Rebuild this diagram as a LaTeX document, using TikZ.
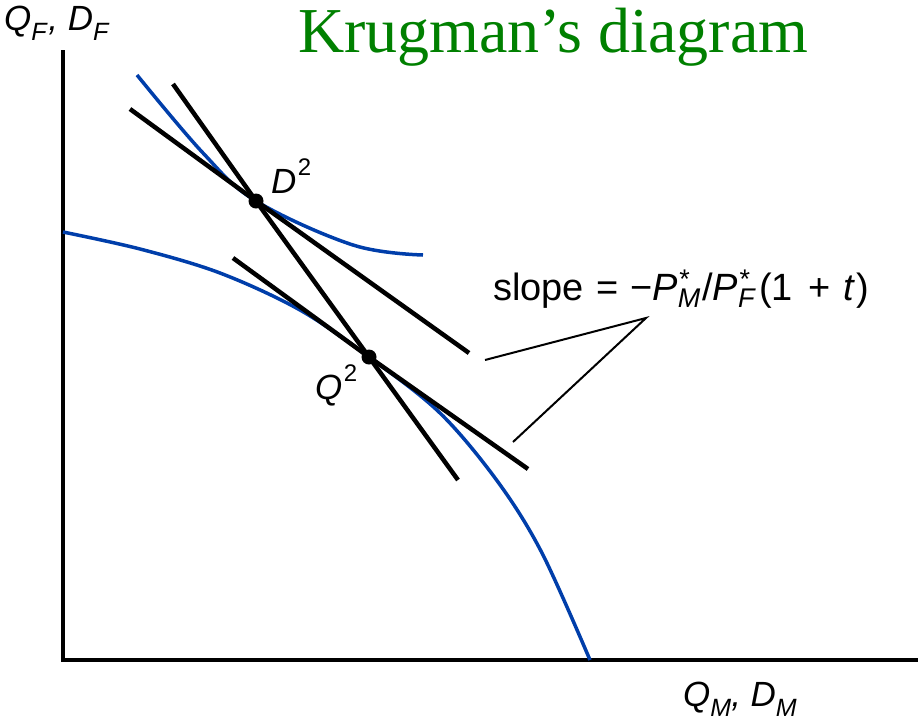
\documentclass[tikz,border=0pt]{standalone}
\usepackage{fontspec}
\setmainfont{Liberation Serif}
\setsansfont{Liberation Sans}
\definecolor{curveblue}{RGB}{0,62,170}
\definecolor{titlegreen}{RGB}{0,128,0}
\newcommand{\lsub}[1]{\raisebox{-0.3em}{\fontsize{25}{25}\selectfont\itshape #1}}
\newcommand{\starsub}[1]{{\fontsize{27}{27}\selectfont\rlap{\raisebox{0.42em}{\hspace{0.05em}*}}\raisebox{-0.28em}{\itshape #1}}}
\newcommand{\supnum}[1]{\hspace{0.04em}\raisebox{0.5em}{\fontsize{24}{24}\selectfont #1}}
\tikzset{
  axisline/.style={line width=4.5pt},
  curve/.style={curveblue, line width=3.5pt},
  tangent/.style={black, line width=4.5pt},
  pointer/.style={black, line width=2pt},
  dot/.style={circle, fill=black, inner sep=0pt, minimum size=15pt},
  lab/.style={font=\sffamily\fontsize{35}{40}\selectfont, inner sep=0pt},
  slopelab/.style={font=\sffamily\fontsize{38}{42}\selectfont, inner sep=0pt},
  titlelab/.style={font=\rmfamily\fontsize{64}{72}\selectfont, text=titlegreen, inner sep=0pt}
}
\begin{document}
\begin{tikzpicture}[x=1pt,y=-1pt]
\useasboundingbox (0,0) rectangle (924,721);
% axes
\coordinate (ytop) at (63,50);
\coordinate (origin) at (63,660);
\coordinate (xend) at (918,660);
\draw[axisline] (ytop) -- (origin) -- (xend);
% blue curves
\draw[curve] plot[smooth, tension=0.6] coordinates {(137,75) (203,153) (256,201) (353,245) (423,255)};
\draw[curve] plot[smooth, tension=0.55] coordinates {(63,232) (140,249) (220,273) (300,310) (369,357) (440,413) (498,482) (542,553) (590,660)};
% points
\node[dot] (D2) at (256,201) {};
\node[dot] (Q2) at (369,357) {};
% tangent lines
\coordinate (a1) at (130,109);
\coordinate (a2) at (469,353);
\coordinate (b1) at (173,84);
\coordinate (b2) at (458,480);
\coordinate (c1) at (233,258);
\coordinate (c2) at (528,469);
\draw[tangent] (a1) -- (D2.center) -- (a2);
\draw[tangent] (b1) -- (D2.center) -- (Q2.center) -- (b2);
\draw[tangent] (c1) -- (Q2.center) -- (c2);
% pointer lines
\coordinate (apex) at (646,318);
\coordinate (p1) at (485,360);
\coordinate (p2) at (513,442);
\draw[pointer] (p1) -- (apex) -- (p2);
% labels
\node[slopelab, anchor=base west] (slope) at (493,300) {slope\hspace{0.06em} = \hspace{0.02em}−{\itshape P}\starsub{M}\hspace{0.05em}/{\itshape P}\starsub{F}\hspace{0.12em}(1\hspace{0.12em} + \hspace{0.07em}{\itshape t}\hspace{0.05em})};
\node[lab, anchor=base west] (D2lab) at (271,193) {{\itshape D}\supnum{2}};
\node[lab, anchor=base west] (Q2lab) at (315,399) {{\itshape Q}\supnum{2}};
\node[lab, anchor=base west] (ylab) at (4,30) {{\itshape Q}\lsub{F}{\itshape\hspace{0.05em},} {\itshape D}\lsub{F}};
\node[lab, anchor=base west] (xlab) at (683,706) {{\itshape Q}\lsub{M}{\itshape ,} {\itshape D}\lsub{M}};
\node[titlelab, anchor=base west] (title) at (298,52) {Krugman’s diagram};
\end{tikzpicture}
\end{document}
